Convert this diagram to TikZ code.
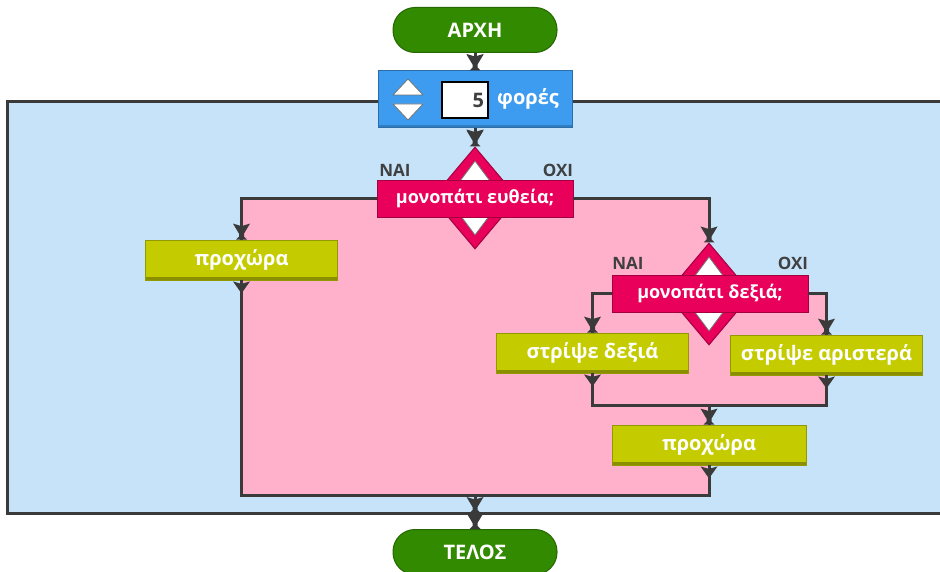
\documentclass[tikz,border=0pt]{standalone}
\usepackage{fontspec}
\setmainfont{Open Sans}
\usetikzlibrary{shapes.geometric,backgrounds,calc}
\definecolor{loopbg}{RGB}{198,227,250}
\definecolor{pinkbg}{RGB}{255,176,203}
\definecolor{linec}{RGB}{58,58,58}
\definecolor{startgreen}{RGB}{50,138,0}
\definecolor{loopblue}{RGB}{62,156,240}
\definecolor{decred}{RGB}{232,0,90}
\definecolor{actgreen}{RGB}{196,204,0}
\definecolor{lblgray}{RGB}{64,64,64}
\begin{document}
\begin{tikzpicture}[x=1pt,y=-1pt,
  txt/.style={font=\bfseries\fontsize{20}{24}\selectfont},
  dectxt/.style={font=\bfseries\fontsize{18}{22}\selectfont},
  terminal/.style={txt, rectangle, rounded corners=22pt, fill=startgreen, draw=startgreen!75!black, line width=1pt,
    minimum width=164pt, minimum height=45pt, inner sep=0pt, text=white},
  actbox/.style={txt, rectangle, fill=actgreen, draw=actgreen!75!black, line width=0.8pt,
    minimum width=192pt, minimum height=40pt, inner sep=0pt, text=white,
    path picture={\fill[actgreen!70!black] (path picture bounding box.south west) rectangle ([yshift=3pt]path picture bounding box.south east);}},
  loopblock/.style={rectangle, fill=loopblue, draw=loopblue!70!black, line width=1pt,
    minimum width=194pt, minimum height=57pt, inner sep=0pt,
    path picture={\fill[loopblue!80!black] (path picture bounding box.south west) rectangle ([yshift=3pt]path picture bounding box.south east);}},
  countbox/.style={txt, rectangle, fill=white, draw=black, line width=1.3pt, minimum width=46pt, minimum height=36pt,
    inner sep=3pt, text width=38pt, align=right, text=lblgray},
  decdiamond/.style={diamond, fill=decred, draw=decred!70!black, line width=1pt,
    minimum width=86pt, minimum height=102pt, inner sep=0pt},
  decbanner/.style={dectxt, rectangle, fill=decred, draw=decred!70!black, line width=0.8pt,
    minimum width=196pt, minimum height=37pt, inner sep=0pt, text=white},
  lbl/.style={font=\bfseries\fontsize{17}{20}\selectfont, text=lblgray},
  conn/.style={draw=linec, line width=3pt},
  tristyle/.style={fill=white, draw=black!55, line width=0.8pt, line join=round},
  dectri/.pic={\path[tristyle] (0,-37) -- (-15,-17) -- (15,-17) -- cycle;
               \path[tristyle] (-15,17) -- (15,17) -- (0,37) -- cycle;},
  endnub/.pic={\fill[linec] (-8.5,-16) -- (0,-13.5) -- (8.5,-16) -- (2.5,-6) -- (2.5,-3) -- (5.5,0) -- (-5.5,0) -- (-2.5,-3) -- (-2.5,-6) -- cycle;},
  startnub/.pic={\fill[linec] (-8.5,1) -- (0,3.5) -- (8.5,1) -- (0,13) -- cycle;}
]
\useasboundingbox (0,0) rectangle (940,572);

% nodes
\node[terminal] (start) at (475,30) {ΑΡΧΗ};
\node[loopblock] (loop) at (475,99.5) {};
\path[tristyle] (408,79) -- (423,95) -- (393,95) -- cycle;
\path[tristyle] (393,104) -- (423,104) -- (408,120) -- cycle;
\node[countbox] (count) at (465,100) {5};
\node[txt, text=white] (times) at (528,99) {φορές};

\node[decdiamond] (d1) at (475,198) {};
\pic at (d1) {dectri};
\node[decbanner] (b1) at (475,198.5) {μονοπάτι ευθεία;};
\node[lbl] (yes1) at (395,170) {ΝΑΙ};
\node[lbl] (no1) at (558,170) {ΟΧΙ};

\node[actbox] (fwd1) at (241.5,260) {προχώρα};

\node[decdiamond] (d2) at (709,294) {};
\pic at (d2) {dectri};
\node[decbanner] (b2) at (710,293.5) {μονοπάτι δεξιά;};
\node[lbl] (yes2) at (628,263) {ΝΑΙ};
\node[lbl] (no2) at (793,263) {ΟΧΙ};

\node[actbox] (right) at (592.5,353) {στρίψε δεξιά};
\node[actbox] (left) at (826.5,355) {στρίψε αριστερά};
\node[actbox, minimum width=194pt] (fwd2) at (709,445) {προχώρα};

\node[terminal] (end) at (475,552) {ΤΕΛΟΣ};

\coordinate (yb) at (0,495);
\coordinate (yj) at (0,405);
\coordinate (lb) at (475,513);

% backgrounds
\begin{pgfonlayer}{background}
  \fill[loopbg] (7,102) rectangle (950,513);
  \draw[linec, line width=3pt] (950,102) -- (7,102) -- (7,513) -- (950,513);
  \fill[pinkbg] (fwd1.north |- b1.west) -- (d2.north |- b1.west) -- (d2.north |- b2.east)
     -- (left.north |- b2.east) -- (left.south |- yj) -- (fwd2.north |- yj)
     -- (fwd2.south |- yb) -- (fwd1.south |- yb) -- cycle;
\end{pgfonlayer}

% connectors
\draw[conn] (start.south) -- (loop.north);
\draw[conn] (loop.south) -- (d1.north);
\draw[conn] (b1.west) -| (fwd1.north);
\draw[conn] (b1.east) -| (d2.north);
\draw[conn] (b2.west) -| (right.north);
\draw[conn] (b2.east) -| (left.north);
\draw[conn] (right.south) |- (left.south |- yj) -- (left.south);
\draw[conn] (fwd2.north |- yj) -- (fwd2.north);
\draw[conn] (fwd1.south) |- (fwd2.south |- yb) -- (fwd2.south);
\draw[conn] (lb |- yb) -- (lb);
\draw[conn] (lb) -- (end.north);

% arrow nubs
\foreach \n in {loop.north, d1.north, fwd1.north, d2.north, right.north, left.north, fwd2.north, lb, end.north}
  \pic at (\n) {endnub};
\foreach \n in {start.south, loop.south, fwd1.south, right.south, left.south, fwd2.south}
  \pic at (\n) {startnub};
\end{tikzpicture}
\end{document}
